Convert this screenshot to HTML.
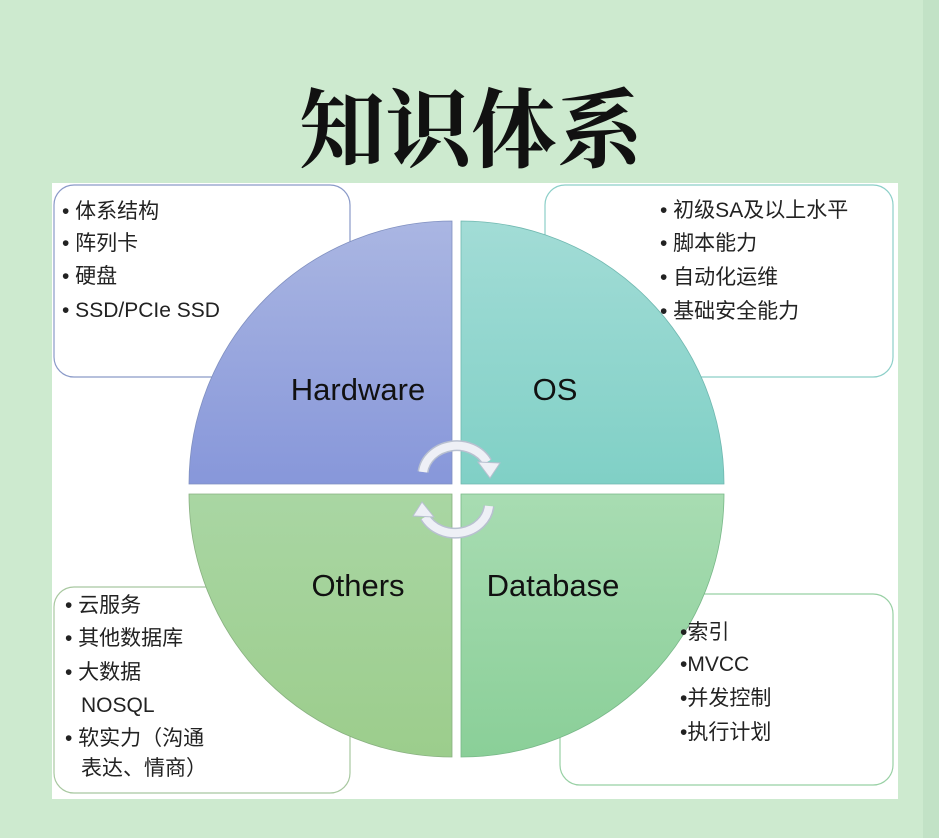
<!DOCTYPE html>
<html><head><meta charset="utf-8"><style>
html,body{margin:0;padding:0;width:939px;height:838px;overflow:hidden;background:#cdeacf;}
svg{display:block}
.t{font-family:"Liberation Sans","Noto Sans CJK SC",sans-serif;font-size:21px;fill:#222;}
.l{font-family:"Liberation Sans","Noto Sans CJK SC",sans-serif;font-size:31px;fill:#111;}
</style></head><body>
<svg width="939" height="838" viewBox="0 0 939 838">
<defs>
<linearGradient id="g1" x1="0" y1="0" x2="0" y2="1"><stop offset="0" stop-color="#aab6e2"/><stop offset="1" stop-color="#8797da"/></linearGradient>
<linearGradient id="g2" x1="0" y1="0" x2="0" y2="1"><stop offset="0" stop-color="#a2dcd6"/><stop offset="1" stop-color="#80d0c6"/></linearGradient>
<linearGradient id="g3" x1="0" y1="0" x2="0" y2="1"><stop offset="0" stop-color="#a9d6a3"/><stop offset="1" stop-color="#9ccd8c"/></linearGradient>
<linearGradient id="g4" x1="0" y1="0" x2="0" y2="1"><stop offset="0" stop-color="#a8dcb2"/><stop offset="1" stop-color="#8acf98"/></linearGradient>
</defs>
<rect x="0" y="0" width="939" height="838" fill="#cdeacf"/>
<rect x="923" y="0" width="16" height="838" fill="#c2e2c6"/>
<text x="471" y="160" text-anchor="middle" font-family="'Noto Serif CJK SC',serif" font-weight="bold" font-size="86" fill="#111">知识体系</text>
<rect x="52" y="183" width="846" height="616" fill="#fff"/>
<rect x="54" y="185" width="296" height="192" rx="20" fill="#fff" stroke="#8a9ac8" stroke-width="1.2"/>
<rect x="545" y="185" width="348" height="192" rx="20" fill="#fff" stroke="#8ccfc8" stroke-width="1.2"/>
<rect x="54" y="587" width="296" height="206" rx="20" fill="#fff" stroke="#a8c8a0" stroke-width="1.2"/>
<rect x="560" y="594" width="333" height="191" rx="20" fill="#fff" stroke="#98d0a4" stroke-width="1.2"/>
<path d="M452,484 L189,484 A263,263 0 0 1 452,221 Z" fill="url(#g1)" stroke="#8090c0" stroke-width="0.8"/>
<path d="M461,484 L461,221 A263,263 0 0 1 724,484 Z" fill="url(#g2)" stroke="#70b8b0" stroke-width="0.8"/>
<path d="M452,494 L189,494 A263,263 0 0 0 452,757 Z" fill="url(#g3)" stroke="#88b080" stroke-width="0.8"/>
<path d="M461,494 L724,494 A263,263 0 0 1 461,757 Z" fill="url(#g4)" stroke="#78b888" stroke-width="0.8"/>
<text class="l" x="358" y="400" text-anchor="middle">Hardware</text>
<text class="l" x="555" y="400" text-anchor="middle">OS</text>
<text class="l" x="358" y="596" text-anchor="middle">Others</text>
<text class="l" x="553" y="596" text-anchor="middle">Database</text>
<path d="M423,472 A34,30 0 0 1 487,462" fill="none" stroke="#b8c0d0" stroke-width="11"/>
<path d="M423,472 A34,30 0 0 1 487,462" fill="none" stroke="#eef0f6" stroke-width="8"/>
<polygon points="478,462 500,463 490,478" fill="#eef0f6" stroke="#b8c0d0" stroke-width="1"/>
<path d="M489,506 A34,30 0 0 1 425,517" fill="none" stroke="#b8c0d0" stroke-width="11"/>
<path d="M489,506 A34,30 0 0 1 425,517" fill="none" stroke="#eef0f6" stroke-width="8"/>
<polygon points="434,517 413,516 422,502" fill="#eef0f6" stroke="#b8c0d0" stroke-width="1"/>
<g class="t">
<text x="62" y="218">• 体系结构</text>
<text x="62" y="250">• 阵列卡</text>
<text x="62" y="283">• 硬盘</text>
<text x="62" y="317">• SSD/PCIe SSD</text>
<text x="660" y="217">• 初级SA及以上水平</text>
<text x="660" y="250">• 脚本能力</text>
<text x="660" y="284">• 自动化运维</text>
<text x="660" y="318">• 基础安全能力</text>
<text x="65" y="612">• 云服务</text>
<text x="65" y="645">• 其他数据库</text>
<text x="65" y="679">• 大数据</text>
<text x="81" y="712">NOSQL</text>
<text x="65" y="745">• 软实力（沟通</text>
<text x="81" y="775">表达、情商）</text>
<text x="680" y="639">•索引</text>
<text x="680" y="671">•MVCC</text>
<text x="680" y="705">•并发控制</text>
<text x="680" y="739">•执行计划</text>
</g>
</svg>
</body></html>
